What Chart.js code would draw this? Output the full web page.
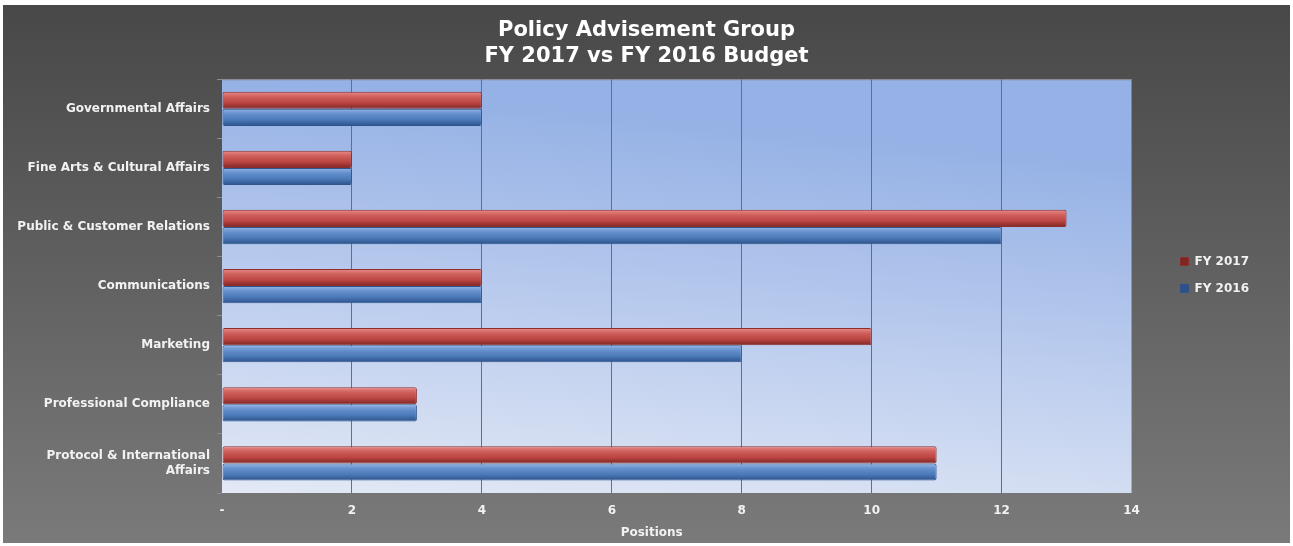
<!DOCTYPE html>
<html lang="en">
<head>
    <meta charset="UTF-8">
    <title>Policy Advisement Group</title>
    <script src="https://cdn.jsdelivr.net/npm/chart.js"></script>
    <style>
        body {
            margin: 0;
            padding: 0;
            background: #ffffff;
        }
        #wrap {
            position: relative;
            width: 1293px;
            height: 546px;
        }
        #frame {
            position: absolute;
            left: 3px;
            top: 5px;
            width: 1287px;
            height: 538px;
            background: linear-gradient(to bottom, #484848 0%, #5e5e5e 45%, #7a7a7a 100%);
        }
        #box {
            position: absolute;
            left: 0;
            top: 0;
            width: 1293px;
            height: 546px;
        }
    </style>
</head>
<body>
    <div id="wrap">
        <div id="frame"></div>
        <div id="box"><canvas id="budgetChart"></canvas></div>
    </div>
    <script>
        // data
        const groups = [
            'Governmental Affairs',
            'Fine Arts & Cultural Affairs',
            'Public & Customer Relations',
            'Communications',
            'Marketing',
            'Professional Compliance',
            ['Protocol & International', 'Affairs']
        ];
        const fy2017 = [4, 2, 13, 4, 10, 3, 11];
        const fy2016 = [4, 2, 12, 4, 8, 3, 11];
        const xTicks = [0, 2, 4, 6, 8, 10, 12, 14];

        const CAT_PCT = 0.58;
        const textColor = '#f2f2f2';
        const RIGHT_PAD = 68;

        // shaded (tube look) bar fill, built from the y scale
        function tubeFill(colors) {
            return function (c) {
                const chart = c.chart;
                const area = chart.chartArea;
                if (c.type !== 'data' || !area || !chart.scales.y) return colors[2];
                const center = chart.scales.y.getPixelForValue(c.index);
                const th = (area.height / groups.length) * CAT_PCT / 2;
                const top = c.datasetIndex === 0 ? center - th : center;
                const g = chart.ctx.createLinearGradient(0, top, 0, top + th);
                g.addColorStop(0, colors[0]);
                g.addColorStop(0.3, colors[1]);
                g.addColorStop(0.65, colors[2]);
                g.addColorStop(1, colors[3]);
                return g;
            };
        }

        // blue plot area
        const plotBg = {
            id: 'plotBg',
            beforeDraw(chart) {
                const { ctx, chartArea: a } = chart;
                const g = ctx.createLinearGradient(a.left + 40, a.top, a.left, a.bottom);
                g.addColorStop(0, '#95b1e5');
                g.addColorStop(0.5, '#bccdee');
                g.addColorStop(1, '#e3e9f5');
                ctx.save();
                ctx.fillStyle = g;
                ctx.fillRect(a.left, a.top, a.right - a.left, a.bottom - a.top);
                ctx.strokeStyle = '#8a8a8a';
                ctx.lineWidth = 1;
                ctx.beginPath();
                ctx.moveTo(a.left, a.top + 0.5);
                ctx.lineTo(a.right, a.top + 0.5);
                ctx.stroke();
                ctx.restore();
            }
        };

        // legend a bit further from the plot, title centred on the whole canvas
        const boxShift = {
            id: 'boxShift',
            afterLayout(chart) {
                const lg = chart.legend;
                if (lg) {
                    lg.left += 34;
                    lg.right += 34;
                }
                const tb = chart.titleBlock;
                if (tb) {
                    tb.right += RIGHT_PAD;
                }
            }
        };

        const ctx = document.getElementById('budgetChart').getContext('2d');
        const budgetChart = new Chart(ctx, {
            type: 'bar',
            data: {
                labels: groups,
                datasets: [{
                    label: 'FY 2017',
                    data: fy2017,
                    backgroundColor: tubeFill(['#ea8c89', '#cf5f5b', '#bb4542', '#7e2624']),
                    borderColor: '#8c2f2c',
                    borderWidth: 1,
                    borderRadius: 2,
                    borderSkipped: false,
                    categoryPercentage: CAT_PCT,
                    barPercentage: 1
                }, {
                    label: 'FY 2016',
                    data: fy2016,
                    backgroundColor: tubeFill(['#93b5e6', '#6490cc', '#4a79b7', '#2c5189']),
                    borderColor: '#2f558c',
                    borderWidth: 1,
                    borderRadius: 2,
                    borderSkipped: false,
                    categoryPercentage: CAT_PCT,
                    barPercentage: 1
                }]
            },
            options: {
                indexAxis: 'y',
                responsive: true,
                maintainAspectRatio: false,
                animation: false,
                layout: {
                    padding: { top: 4, right: RIGHT_PAD, bottom: 0, left: 0 }
                },
                plugins: {
                    title: {
                        display: true,
                        text: ['Policy Advisement Group', 'FY 2017 vs FY 2016 Budget'],
                        color: '#ffffff',
                        font: { family: 'DejaVu Sans', size: 21, weight: 'bold', lineHeight: 1.22 },
                        padding: { top: 14, bottom: 10 }
                    },
                    legend: {
                        position: 'right',
                        labels: {
                            color: textColor,
                            font: { family: 'DejaVu Sans', size: 12, weight: 'bold' },
                            boxWidth: 8,
                            boxHeight: 8,
                            padding: 15
                        }
                    },
                    tooltip: { enabled: false }
                },
                scales: {
                    x: {
                        min: 0,
                        max: 14,
                        afterBuildTicks(scale) {
                            scale.ticks = xTicks.map(v => ({ value: v }));
                        },
                        afterFit(scale) {
                            scale.height = 53;
                        },
                        border: { display: false },
                        grid: {
                            color: c => (c.tick && (c.tick.value === 0 || c.tick.value === 14)) ? 'rgba(0,0,0,0)' : '#6e6e6e',
                            lineWidth: 1,
                            drawTicks: false
                        },
                        ticks: {
                            color: textColor,
                            font: { family: 'DejaVu Sans', size: 12, weight: 'bold' },
                            padding: 11,
                            callback: v => v === 0 ? '-' : v
                        },
                        title: {
                            display: true,
                            text: 'Positions' + '\u00a0'.repeat(12),
                            color: textColor,
                            font: { family: 'DejaVu Sans', size: 12, weight: 'bold' },
                            padding: { top: 0, bottom: 6 }
                        }
                    },
                    y: {
                        afterFit(scale) {
                            scale.width = 222;
                        },
                        border: { display: false },
                        grid: {
                            offset: true,
                            drawOnChartArea: false,
                            tickLength: 5,
                            color: '#8c8c8c'
                        },
                        ticks: {
                            color: textColor,
                            font: { family: 'DejaVu Sans', size: 12, weight: 'bold' },
                            padding: 7
                        }
                    }
                }
            },
            plugins: [plotBg, boxShift]
        });
    </script>
</body>
</html>
